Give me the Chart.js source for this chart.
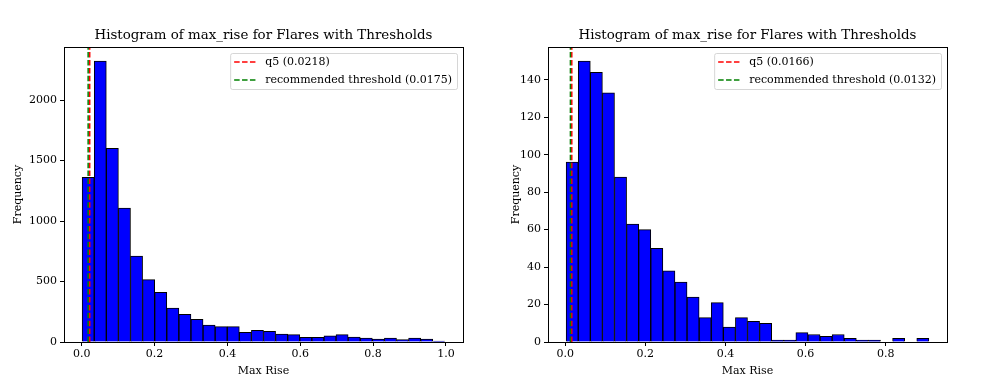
<!DOCTYPE html>
<html lang="en">
<head>
<meta charset="UTF-8">
<title>Histogram of max_rise</title>
<script src="https://cdn.jsdelivr.net/npm/chart.js"></script>
<style>
  body { margin: 0; background: #fff; }
  .wrap { position: relative; width: 997px; height: 385px; }
  canvas { position: absolute; top: 0; }
  #leftChart { left: 0; }
  #rightChart { left: 498px; }
</style>
</head>
<body>
<div class="wrap">
  <canvas id="leftChart" width="498" height="385"></canvas>
  <canvas id="rightChart" width="499" height="385"></canvas>
</div>

<script>
// left panel: 30 bins of max_rise
const leftCounts = [1360, 2322, 1600, 1107, 711, 515, 410, 281, 229, 187,
                    140, 127, 127, 80, 96, 88, 66, 61, 39, 39,
                    52, 61, 41, 33, 25, 33, 19, 33, 25, 8]
const leftRange = [0.001, 0.997]
const leftXTicks = [0.0, 0.2, 0.4, 0.6, 0.8, 1.0]
const leftYTicks = [0, 500, 1000, 1500, 2000]
const leftQ5 = 0.0218
const leftThreshold = 0.0175

// right panel
const rightCounts = [96, 150, 144, 133, 88, 63, 60, 50, 38, 32,
                     24, 13, 21, 8, 13, 11, 10, 1, 1, 5,
                     4, 3, 4, 2, 1, 1, 0, 2, 0, 2]
const rightRange = [0.0025, 0.9075]
const rightXTicks = [0.0, 0.2, 0.4, 0.6, 0.8]
const rightYTicks = [0, 20, 40, 60, 80, 100, 120, 140]
const rightQ5 = 0.0166
const rightThreshold = 0.0132

const titleText = 'Histogram of max_rise for Flares with Thresholds'

Chart.defaults.font.family = 'DejaVu Serif'
Chart.defaults.color = '#000'

// frame, title and legend box like matplotlib
const decor = {
    id: 'decor',
    afterDraw(chart, args, opts) {
        const ctx = chart.ctx
        const a = chart.chartArea
        ctx.save()
        ctx.strokeStyle = '#000'
        ctx.lineWidth = 1
        ctx.strokeRect(Math.round(a.left) + 0.5, Math.round(a.top) + 0.5,
            Math.round(a.right - a.left), Math.round(a.bottom - a.top))

        ctx.fillStyle = '#000'
        ctx.font = '13.4px "DejaVu Serif"'
        ctx.textAlign = 'center'
        ctx.textBaseline = 'alphabetic'
        ctx.fillText(titleText, (a.left + a.right) / 2, a.top - 8)

        // legend
        ctx.font = '11px "DejaVu Serif"'
        let w = 0
        opts.items.forEach(function (it) { w = Math.max(w, ctx.measureText(it.label).width) })
        const boxW = 4 + 22 + 9 + w + 5
        const boxH = 36
        const bx = a.right - 6 - boxW
        const by = a.top + 6
        ctx.beginPath()
        ctx.roundRect(bx + 0.5, by + 0.5, boxW, boxH, 2)
        ctx.fillStyle = 'rgba(255,255,255,0.8)'
        ctx.fill()
        ctx.strokeStyle = 'rgba(204,204,204,0.8)'
        ctx.stroke()
        ctx.textAlign = 'left'
        ctx.textBaseline = 'middle'
        opts.items.forEach(function (it, i) {
            const y = by + 9 + i * 18
            ctx.beginPath()
            ctx.setLineDash([5.5, 2.4])
            ctx.lineWidth = 1.5
            ctx.strokeStyle = it.color
            ctx.moveTo(bx + 4, y)
            ctx.lineTo(bx + 26, y)
            ctx.stroke()
            ctx.setLineDash([])
            ctx.fillStyle = '#000'
            ctx.fillText(it.label, bx + 35, y)
        })
        ctx.restore()
    }
}

function makeHist(id, counts, range, xTicks, yTicks, q5, thr, area) {
    const n = counts.length
    const binW = (range[1] - range[0]) / n
    const pts = counts.map(function (c, i) {
        return { x: range[0] + binW * (i + 0.5), y: c }
    })
    const span = range[1] - range[0]
    const yMax = Math.max.apply(null, counts) * 1.05
    const canvas = document.getElementById(id)

    new Chart(canvas, {
        type: 'bar',
        data: {
            datasets: [
                {
                    label: 'counts',
                    data: pts,
                    backgroundColor: '#0000ff',
                    borderColor: '#000',
                    borderWidth: 1,
                    barPercentage: 1,
                    categoryPercentage: 1,
                    order: 2
                },
                {
                    type: 'line',
                    label: 'q5 (' + q5 + ')',
                    data: [{ x: q5, y: 0 }, { x: q5, y: yMax }],
                    borderColor: '#ff0000',
                    borderWidth: 1.5,
                    borderDash: [5.5, 2.4],
                    pointRadius: 0,
                    fill: false,
                    order: 1
                },
                {
                    type: 'line',
                    label: 'recommended threshold (' + thr + ')',
                    data: [{ x: thr, y: 0 }, { x: thr, y: yMax }],
                    borderColor: '#008000',
                    borderWidth: 1.5,
                    borderDash: [5.5, 2.4],
                    pointRadius: 0,
                    fill: false,
                    order: 0
                }
            ]
        },
        options: {
            responsive: false,
            animation: false,
            layout: { padding: { top: area.top, right: canvas.width - area.right, left: 0, bottom: 0 } },
            plugins: {
                legend: { display: false },
                tooltip: { enabled: false },
                decor: {
                    items: [
                        { label: 'q5 (' + q5 + ')', color: '#ff0000' },
                        { label: 'recommended threshold (' + thr + ')', color: '#008000' }
                    ]
                }
            },
            scales: {
                x: {
                    type: 'linear',
                    offset: false,
                    min: range[0] - 0.05 * span,
                    max: range[1] + 0.05 * span,
                    afterBuildTicks: function (s) { s.ticks = xTicks.map(function (v) { return { value: v } }) },
                    afterFit: function (s) { s.height = 385 - area.bottom },
                    ticks: {
                        font: { size: 11 },
                        maxRotation: 0,
                        padding: 2,
                        callback: function (v) { return v.toFixed(1) }
                    },
                    grid: { drawOnChartArea: false, drawTicks: true, tickLength: 4, color: '#000', offset: false },
                    border: { display: true, color: '#000' },
                    title: { display: true, text: 'Max Rise', font: { size: 11 }, padding: { top: 0, bottom: 7 } }
                },
                y: {
                    min: 0,
                    max: yMax,
                    afterBuildTicks: function (s) { s.ticks = yTicks.map(function (v) { return { value: v } }) },
                    afterFit: function (s) { s.width = area.left },
                    ticks: { font: { size: 11 }, padding: 3, callback: function (v) { return String(v) } },
                    grid: { drawOnChartArea: false, drawTicks: true, tickLength: 4, color: '#000' },
                    border: { display: true, color: '#000' },
                    title: { display: true, text: 'Frequency', font: { size: 11 }, padding: { top: 12, bottom: 0 } }
                }
            }
        },
        plugins: [decor]
    })
}

makeHist('leftChart', leftCounts, leftRange, leftXTicks, leftYTicks, leftQ5, leftThreshold,
    { left: 64, right: 463, top: 47, bottom: 342 })
makeHist('rightChart', rightCounts, rightRange, rightXTicks, rightYTicks, rightQ5, rightThreshold,
    { left: 50, right: 449, top: 47, bottom: 342 })
</script>
</body>
</html>
